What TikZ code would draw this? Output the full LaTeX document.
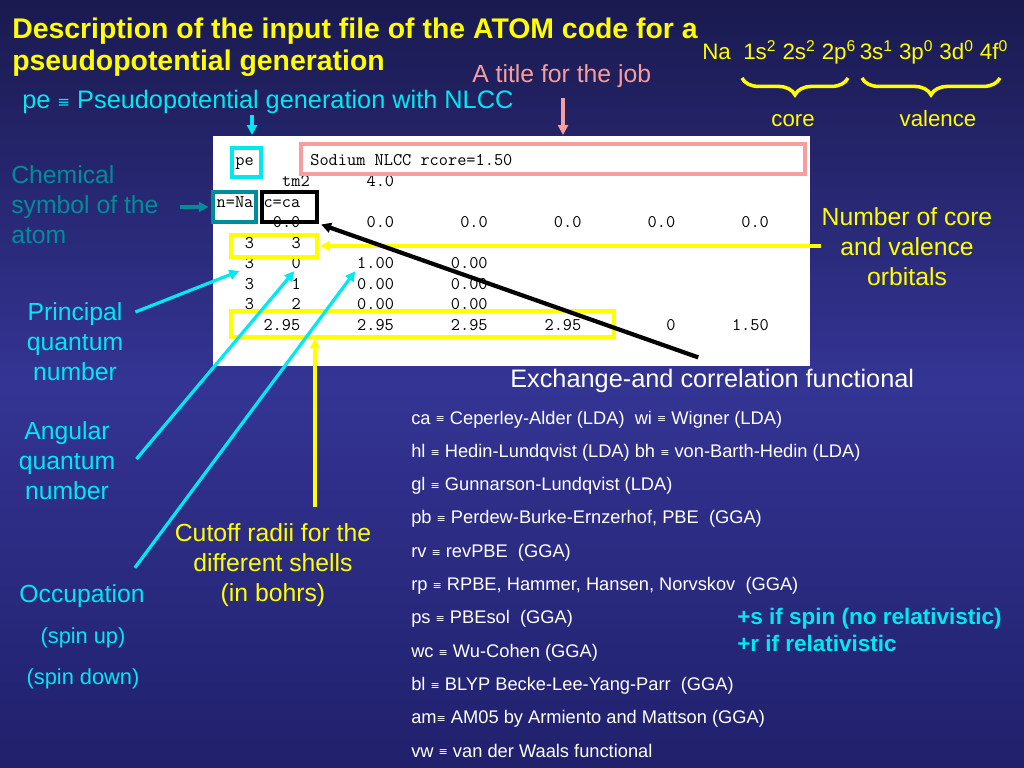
\documentclass[tikz,border=0pt]{standalone}
\usepackage{fontspec}
\usepackage{graphicx}
\setmainfont{Liberation Sans}
\newfontfamily\symfont{DejaVu Sans}
\usetikzlibrary{arrows.meta,positioning,fit,calc,decorations.pathreplacing}

\definecolor{bgtop}{RGB}{26,26,80}
\definecolor{bgmid}{RGB}{52,52,148}
\definecolor{bgbot}{RGB}{32,32,108}
\definecolor{slideyellow}{RGB}{255,255,0}
\definecolor{slidecyan}{RGB}{0,232,240}
\definecolor{slideteal}{RGB}{0,140,152}
\definecolor{slidesalmon}{RGB}{246,158,158}

\newcommand{\eqv}{\raisebox{0.06em}{\scalebox{0.6}{\symfont ≡}}}

\tikzset{
  slidelabel/.style={font=\fontsize{17.6}{21.5}\selectfont, inner sep=0pt, align=center},
  codetok/.style={font=\ttfamily\fontsize{12.68}{14}\selectfont, inner sep=0pt, anchor=base west},
  listitem/.style={font=\fontsize{13}{15}\selectfont, text=white, inner sep=0pt, anchor=base west},
  hlbox/.style={draw=#1, line width=2.2pt, inner sep=0pt},
  ptr/.style={draw=#1, line width=2.3pt, -{Triangle[length=7pt,width=7pt]}},
}

\begin{document}
\begin{tikzpicture}[x=0.025cm, y=-0.025cm]
  \useasboundingbox (0,0) rectangle (1024,768);
  \shade[top color=bgtop, bottom color=bgbot, middle color=bgmid] (0,0) rectangle (1024,768);

  % title and header
  \node[font=\bfseries\fontsize{20.2}{23}\selectfont, text=slideyellow, align=left, inner sep=0pt, anchor=north west] (title) at (12,17.5)
    {Description of the input file of the ATOM code for a\\pseudopotential generation};
  \node[slidelabel, font=\fontsize{18}{21.5}\selectfont, text=slidecyan, anchor=base west] (pelabel) at (22,109) {pe \eqv\ Pseudopotential generation with NLCC};
  \node[slidelabel, text=slidesalmon, anchor=base west] (joblabel) at (472,83) {A title for the job};

  % electronic configuration
  \node[font=\fontsize{15.9}{18}\selectfont, text=slideyellow, inner sep=0pt, anchor=base west] (config) at (702,60)
    {Na\ \ 1s\textsuperscript{2} 2s\textsuperscript{2} 2p\textsuperscript{6}\,3s\textsuperscript{1} 3p\textsuperscript{0} 3d\textsuperscript{0} 4f\textsuperscript{0}};
  \draw[slideyellow, line width=2.5pt, decorate, decoration={brace, mirror, amplitude=12pt}] (742,78) -- (848,78);
  \draw[slideyellow, line width=2.5pt, decorate, decoration={brace, mirror, amplitude=12pt}] (862,78) -- (1000,78);
  \node[font=\fontsize{15.8}{18}\selectfont, text=slideyellow, inner sep=0pt, anchor=base] (corelabel) at (793,127) {core};
  \node[font=\fontsize{15.8}{18}\selectfont, text=slideyellow, inner sep=0pt, anchor=base] (valencelabel) at (938,127) {valence};

  % the input file
  \node[fill=white, inner sep=0pt, fit={(213,136) (810,366)}] (inputfile) {};
  \foreach \col/\row/\txt in {3/1/pe, 11/1/Sodium NLCC rcore=1.50, 8/2/tm2, 17/2/4.0, 1/3/n=Na, 6/3/c=ca,
      7/4/0.0, 17/4/0.0, 27/4/0.0, 37/4/0.0, 47/4/0.0, 57/4/0.0,
      4/5/3, 9/5/3,
      4/6/3, 9/6/0, 16/6/1.00, 26/6/0.00,
      4/7/3, 9/7/1, 16/7/0.00, 26/7/0.00,
      4/8/3, 9/8/2, 16/8/0.00, 26/8/0.00,
      6/9/2.95, 16/9/2.95, 26/9/2.95, 36/9/2.95, 49/9/0, 56/9/1.50}
    \node[codetok] (t\row-\col) at ({207+9.37*\col},{145.5+20.5*\row}) {\txt};

  \node[hlbox=slidecyan, fit={(232,148) (261,177)}] (pebox) {};
  \node[hlbox=slidesalmon, fit={(301,144) (805,174)}] (jobbox) {};
  \node[hlbox=slideteal, fit={(213,192) (256,222)}] (namebox) {};
  \node[hlbox=black, fit={(262,192) (317,222)}] (xcbox) {};
  \node[hlbox=slideyellow, fit={(231,235) (317,257)}] (orbbox) {};
  \node[hlbox=slideyellow, fit={(231,311) (614,337)}] (rcbox) {};

  % side labels
  \node[slidelabel, text=slideteal, align=left, anchor=north west] (chemlabel) at (11,165) {Chemical\\symbol of the\\atom};
  \node[slidelabel, text=slidecyan, anchor=north] (plabel) at (75,302) {Principal\\quantum\\number};
  \node[slidelabel, text=slidecyan, anchor=north] (alabel) at (67,421) {Angular\\quantum\\number};
  \node[slidelabel, text=slidecyan, anchor=base] (occlabel) at (82,602) {Occupation};
  \node[font=\fontsize{15.5}{18}\selectfont, text=slidecyan, inner sep=0pt, anchor=base] (uplabel) at (83,643) {(spin up)};
  \node[font=\fontsize{15.5}{18}\selectfont, text=slidecyan, inner sep=0pt, anchor=base] (downlabel) at (83,684) {(spin down)};
  \node[slidelabel, text=slideyellow, anchor=north] (cutlabel) at (273,523) {Cutoff radii for the\\different shells\\(in bohrs)};
  \node[slidelabel, text=slideyellow, anchor=north] (numlabel) at (907,207) {Number of core\\and valence\\orbitals};
  \node[slidelabel, font=\fontsize{18}{21.5}\selectfont, text=white, anchor=base west] (xclabel) at (510,387) {Exchange-and correlation functional};

  % functionals
  \foreach \entry [count=\i] in {
      {ca \eqv\ Ceperley-Alder (LDA)\ \ wi \eqv\ Wigner (LDA)},
      {hl \eqv\ Hedin-Lundqvist (LDA) bh \eqv\ von-Barth-Hedin (LDA)},
      {gl \eqv\ Gunnarson-Lundqvist (LDA)},
      {pb \eqv\ Perdew-Burke-Ernzerhof, PBE\ \ (GGA)},
      {rv \eqv\ revPBE\ \ (GGA)},
      {rp \eqv\ RPBE, Hammer, Hansen, Norvskov\ \ (GGA)},
      {ps \eqv\ PBEsol\ \ (GGA)},
      {wc \eqv\ Wu-Cohen (GGA)},
      {bl \eqv\ BLYP Becke-Lee-Yang-Parr\ \ (GGA)},
      {am\eqv\ AM05 by Armiento and Mattson (GGA)},
      {vw \eqv\ van der Waals functional}}
    \node[listitem] (xc\i) at (411,{424+33.3*(\i-1)}) {\entry};
  \node[font=\bfseries\fontsize{16}{19.1}\selectfont, text=slidecyan, align=left, inner sep=0pt, anchor=north west] (spinlabel) at (737,608)
    {+s if spin (no relativistic)\\+r if relativistic};

  % pointers
  \coordinate (petip) at (252,135);
  \coordinate (jobtip) at (563,135);
  \coordinate (cutstart) at ($(cutlabel.north)+(42,-16)$);
  \draw[ptr=slidecyan] (pelabel.south -| petip) -- (petip);
  \draw[ptr=slidesalmon, line width=3pt, shorten <=7pt] (joblabel.south -| jobtip) -- (jobtip);
  \draw[ptr=slideteal, shorten <=15pt, shorten >=2pt] (chemlabel.east |- namebox.west) -- (namebox.west);
  \draw[ptr=slideyellow, shorten >=1pt] (numlabel.west |- orbbox.east) -- (orbbox.east);
  \draw[ptr=slidecyan, shorten >=4pt] ($(plabel.north east)+(12,10)$) -- (t6-4.south west);
  \draw[ptr=slidecyan, shorten >=2pt] ($(alabel.north east)+(21,38)$) -- (t6-9.south);
  \draw[ptr=slidecyan, shorten >=2pt] ($(occlabel.north east)+(-10,-16)$) -- (t6-16.south west);
  \draw[ptr=slideyellow] (cutstart) -- (cutstart |- rcbox.south);
  \draw[ptr=black, line width=3pt, shorten >=2pt] ($(xclabel.north)+(-14,-11)$) -- (xcbox.south east);
\end{tikzpicture}
\end{document}
